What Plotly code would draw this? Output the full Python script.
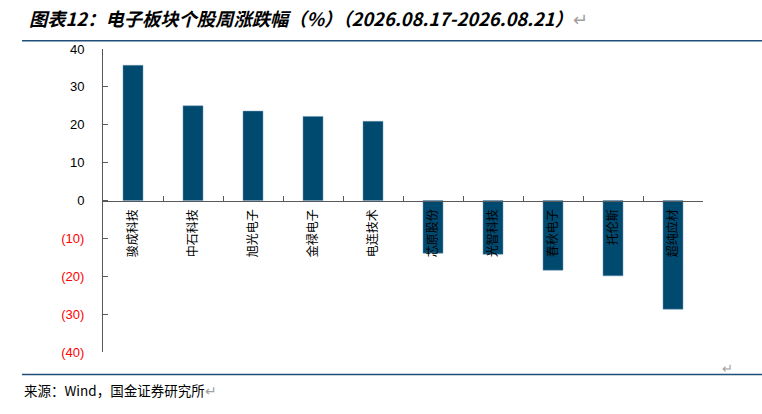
import plotly.graph_objects as go

# 个股名称及周涨跌幅(%)
stocks = ["骏成科技", "中石科技", "旭光电子", "金禄电子", "电连技术",
          "芯原股份", "光智科技", "春秋电子", "托伦斯", "超纯应材"]
changes = [35.7, 25.0, 23.6, 22.2, 20.9, -13.9, -14.2, -18.4, -19.9, -28.7]

ytick_vals = [40, 30, 20, 10, 0, -10, -20, -30, -40]
ytick_text = ["40", "30", "20", "10", "0",
              '<span style="color:#ff0000">(10)</span>',
              '<span style="color:#ff0000">(20)</span>',
              '<span style="color:#ff0000">(30)</span>',
              '<span style="color:#ff0000">(40)</span>']

bar_color = "#00496f"
line_color = "#1f4e79"

fig = go.Figure()
fig.add_trace(go.Bar(x=stocks, y=changes, marker=dict(color=bar_color, line=dict(color="#6f97b5", width=0.5))))

fig.update_layout(
    width=762, height=414,
    margin=dict(l=103, r=59, t=49, b=62),
    paper_bgcolor="white", plot_bgcolor="white",
    showlegend=False, bargap=0.667,
    font=dict(family="Noto Sans CJK SC", size=12, color="black"),
)
fig.update_xaxes(
    type="category", anchor="free", position=0.5, automargin=False,
    showline=True, linecolor="#595959", linewidth=1,
    ticks="inside", ticklen=5, tickcolor="#595959", tickson="boundaries",
    tickangle=-90, tickfont=dict(family="Noto Sans CJK SC", size=12, color="black"),
    ticklabelstandoff=3,
    showgrid=False, zeroline=False,
)
fig.update_yaxes(
    range=[-40, 40], tickvals=ytick_vals, ticktext=ytick_text, automargin=False,
    showline=True, linecolor="#595959", linewidth=1,
    ticks="inside", ticklen=5, tickcolor="#595959",
    ticklabelstandoff=15,
    tickfont=dict(family="Liberation Sans", size=13, color="black"),
    showgrid=False, zeroline=False,
)

# 标题
fig.add_annotation(
    text="<b><i>图表12：电子板块个股周涨跌幅（%）（2026.08.17-2026.08.21）</i></b><span style='color:#a0a0a0'>↵</span>",
    xref="paper", yref="paper", x=-0.1267, y=1.103, xanchor="left", yanchor="middle",
    showarrow=False, font=dict(family="Noto Sans CJK SC", size=18.3, color="black"),
)
# 来源
fig.add_annotation(
    text="来源：Wind，国金证券研究所<span style='color:#a0a0a0'>↵</span>",
    xref="paper", yref="paper", x=-0.135, y=-0.124, xanchor="left", yanchor="middle",
    showarrow=False, font=dict(family="Noto Sans CJK SC", size=13.5, color="black"),
)
fig.add_annotation(
    text="↵", xref="paper", yref="paper", x=1.04, y=-0.05, xanchor="center", yanchor="middle",
    showarrow=False, font=dict(size=13, color="#a0a0a0"),
)
fig.add_shape(type="line", xref="paper", yref="paper", x0=-0.135, x1=1.1, y0=1.027, y1=1.027,
              line=dict(color=line_color, width=1.5))
fig.add_shape(type="line", xref="paper", yref="paper", x0=-0.135, x1=1.1, y0=-0.074, y1=-0.074,
              line=dict(color=line_color, width=1.5))

# 去掉页面默认边距
fig.write_html("out.html", config={"displayModeBar": False},
               post_script="document.body.style.margin='0';")
